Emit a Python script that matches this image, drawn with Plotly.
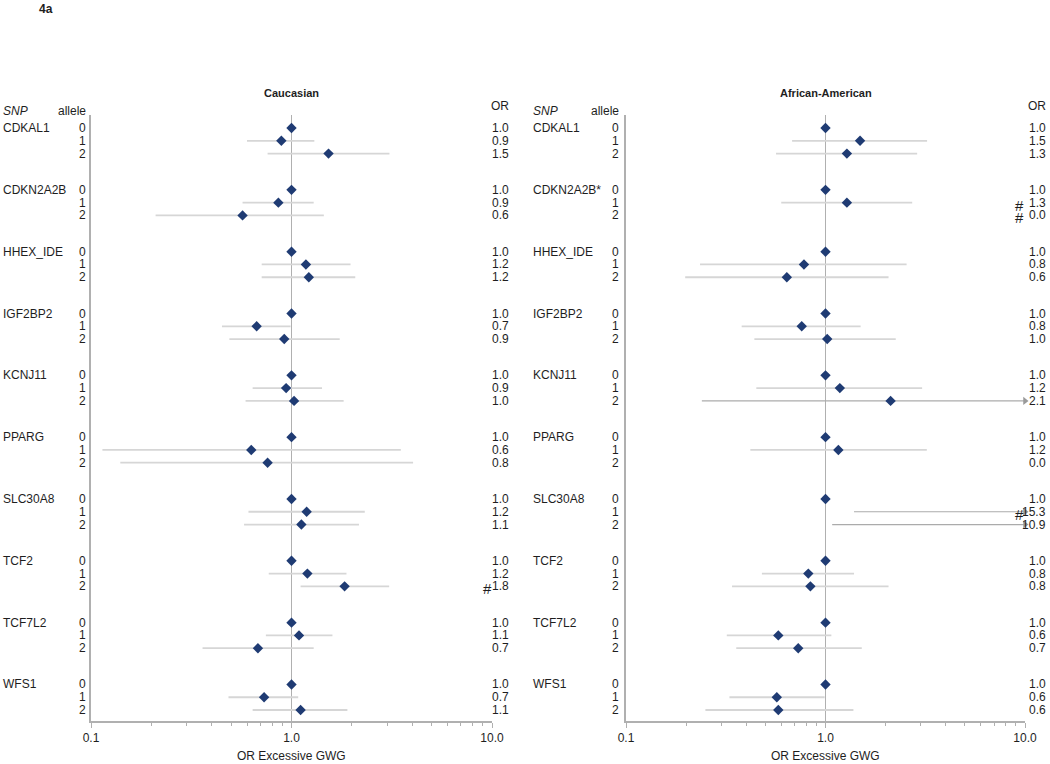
import plotly.graph_objects as go

SNPS = ["CDKAL1", "CDKN2A2B", "HHEX_IDE", "IGF2BP2", "KCNJ11",
        "PPARG", "SLC30A8", "TCF2", "TCF7L2", "WFS1"]
SNPS_AA = ["CDKAL1", "CDKN2A2B*", "HHEX_IDE", "IGF2BP2", "KCNJ11",
           "PPARG", "SLC30A8", "TCF2", "TCF7L2", "WFS1"]
ALLELES = ["0", "1", "2"]

# Caucasian: odds ratio and 95% CI per SNP (allele 0, 1, 2)
CAU_OR = [1.0, 0.89, 1.53,
          1.0, 0.86, 0.57,
          1.0, 1.18, 1.22,
          1.0, 0.67, 0.92,
          1.0, 0.94, 1.03,
          1.0, 0.63, 0.76,
          1.0, 1.19, 1.12,
          1.0, 1.20, 1.84,
          1.0, 1.09, 0.68,
          1.0, 0.73, 1.11]
CAU_LO = [None, 0.60, 0.76,
          None, 0.57, 0.21,
          None, 0.71, 0.71,
          None, 0.45, 0.49,
          None, 0.64, 0.59,
          None, 0.114, 0.14,
          None, 0.61, 0.58,
          None, 0.77, 1.11,
          None, 0.745, 0.36,
          None, 0.485, 0.64]
CAU_HI = [None, 1.30, 3.08,
          None, 1.29, 1.45,
          None, 1.97, 2.08,
          None, 0.99, 1.74,
          None, 1.42, 1.82,
          None, 3.51, 4.04,
          None, 2.32, 2.17,
          None, 1.88, 3.07,
          None, 1.60, 1.29,
          None, 1.08, 1.90]
CAU_HASH = [("TCF2", 2)]

# African-American
AA_OR = [1.0, 1.49, 1.28,
         1.0, 1.28, 0.0,
         1.0, 0.78, 0.64,
         1.0, 0.76, 1.02,
         1.0, 1.18, 2.12,
         1.0, 1.16, 0.0,
         1.0, 15.3, 10.9,
         1.0, 0.82, 0.84,
         1.0, 0.58, 0.73,
         1.0, 0.57, 0.58]
AA_LO = [None, 0.68, 0.565,
         None, 0.60, None,
         None, 0.235, 0.198,
         None, 0.38, 0.44,
         None, 0.45, 0.24,
         None, 0.42, None,
         None, 1.39, 1.08,
         None, 0.48, 0.34,
         None, 0.32, 0.357,
         None, 0.33, 0.25]
AA_HI = [None, 3.23, 2.88,
         None, 2.72, None,
         None, 2.55, 2.07,
         None, 1.50, 2.25,
         None, 3.05, 18.0,
         None, 3.22, None,
         None, 170.0, 110.0,
         None, 1.39, 2.07,
         None, 1.07, 1.52,
         None, 0.99, 1.38]
AA_HASH = [("CDKN2A2B", 1), ("CDKN2A2B", 2), ("SLC30A8", 1)]

AXIS_MIN, AXIS_MAX = 0.1, 10.0
GROUP_STEP = 4.84
W, H = 1050, 764
TOP, BOTTOM = 115, 721

FONT = "Liberation Sans, Arial, sans-serif"
TEXT = "#1e1e1e"
NAVY = "#1f3b73"
CI_GREY = "#d6d6d6"
ARROW_GREY = "#ababab"
AXIS_GREY = "#b0b0b0"

ypos = [g * GROUP_STEP + a for g in range(len(SNPS)) for a in range(len(ALLELES))]


def px(x):
    return x / W


def py(y):
    return (BOTTOM - y) / (BOTTOM - TOP)


fig = go.Figure()
annotations = []
shapes = []


def label(text, x, y, yref="paper", xanchor="center", **kw):
    annotations.append(dict(text=text, x=px(x), xref="paper", xanchor=xanchor,
                            y=y, yref=yref, yanchor="middle", showarrow=False, **kw))


panels = [
    dict(name="Caucasian", snps=SNPS, orv=CAU_OR, lo=CAU_LO, hi=CAU_HI, hashes=CAU_HASH,
         xa="x", ya="y", left=91, right=492, snp_x=1, allele_x=88, or_x=511, hash_x=487),
    dict(name="African-American", snps=SNPS_AA, orv=AA_OR, lo=AA_LO, hi=AA_HI, hashes=AA_HASH,
         xa="x2", ya="y2", left=626, right=1025, snp_x=531, allele_x=621, or_x=1048, hash_x=1019),
]

for p in panels:
    cx, cy, ax, ax_y, arrow_y = [], [], [], [], []
    for i, y in enumerate(ypos):
        lo, hi = p["lo"][i], p["hi"][i]
        if lo is None:
            continue
        if hi > AXIS_MAX:
            ax += [lo, AXIS_MAX, None]
            ax_y += [y, y, None]
            arrow_y.append(y)
        else:
            cx += [lo, hi, None]
            cy += [y, y, None]
    fig.add_trace(go.Scatter(x=cx, y=cy, mode="lines", xaxis=p["xa"], yaxis=p["ya"],
                             line=dict(color=CI_GREY, width=1.8), hoverinfo="skip",
                             showlegend=False))
    if ax:
        fig.add_trace(go.Scatter(x=ax, y=ax_y, mode="lines", xaxis=p["xa"], yaxis=p["ya"],
                                 line=dict(color=ARROW_GREY, width=1.2), hoverinfo="skip",
                                 showlegend=False))
        fig.add_trace(go.Scatter(x=[AXIS_MAX] * len(arrow_y), y=arrow_y, mode="markers",
                                 xaxis=p["xa"], yaxis=p["ya"], cliponaxis=False,
                                 marker=dict(symbol="triangle-right", size=7, color="#9a9a9a"),
                                 hoverinfo="skip", showlegend=False))
    pts = [(v, y) for v, y in zip(p["orv"], ypos) if v > 0]
    fig.add_trace(go.Scatter(x=[v for v, _ in pts], y=[y for _, y in pts], mode="markers",
                             xaxis=p["xa"], yaxis=p["ya"],
                             marker=dict(symbol="diamond", size=8, color=NAVY),
                             showlegend=False))

    shapes.append(dict(type="line", xref=p["xa"], x0=1, x1=1,
                       yref=p["ya"] + " domain", y0=0, y1=1,
                       line=dict(color=AXIS_GREY, width=1), layer="below"))

    for g, snp in enumerate(p["snps"]):
        label(snp, p["snp_x"], ypos[g * 3], yref=p["ya"], xanchor="left")
    for i, y in enumerate(ypos):
        label(ALLELES[i % 3], p["allele_x"], y, yref=p["ya"], xanchor="right")
        label(f"{p['orv'][i]:.1f}", p["or_x"], y, yref=p["ya"], xanchor="right")
    for snp, allele in p["hashes"]:
        y = ypos[SNPS.index(snp) * 3 + allele] + 0.2
        label("#", p["hash_x"], y, yref=p["ya"], font=dict(size=15))

    mid = (p["left"] + p["right"]) / 2
    label(f"<b>{p['name']}</b>", mid, py(93), font=dict(size=11))
    label("OR Excessive GWG", mid, py(756))
    label("<i>SNP</i>", p["snp_x"], py(111), xanchor="left")
    label("allele", p["allele_x"], py(111), xanchor="right")
    label("OR", p["or_x"], py(106), xanchor="right")

label("<b>4a</b>", 46, py(9), font=dict(size=12))

minor_vals = [m * 0.1 for m in range(2, 10)] + [float(m) for m in range(2, 10)]
xbase = dict(type="log", range=[-1, 1], showline=True, linecolor=AXIS_GREY, linewidth=1.5,
             showgrid=False, zeroline=False, ticks="outside", ticklen=5, tickcolor=AXIS_GREY,
             tickvals=[0.1, 1, 10], ticktext=["0.1", "1.0", "10.0"],
             minor=dict(tickvals=minor_vals, ticks="outside", ticklen=3, tickcolor=AXIS_GREY,
                        showgrid=False),
             tickfont=dict(size=12, color=TEXT, family=FONT), fixedrange=True,
             automargin=False)
ybase = dict(range=[ypos[-1] + 0.86, -1.02], showline=True, linecolor=AXIS_GREY, linewidth=1.5,
             showgrid=False, zeroline=False, showticklabels=False, ticks="", fixedrange=True,
             automargin=False)

fig.update_layout(
    width=W, height=H, autosize=False,
    margin=dict(l=0, r=0, t=TOP, b=H - BOTTOM, autoexpand=False),
    paper_bgcolor="white", plot_bgcolor="white",
    font=dict(family=FONT, size=12, color=TEXT),
    xaxis=dict(xbase, domain=[px(91), px(492)], anchor="y"),
    xaxis2=dict(xbase, domain=[px(626), px(1025)], anchor="y2"),
    yaxis=dict(ybase, anchor="x"),
    yaxis2=dict(ybase, anchor="x2"),
    annotations=annotations,
    shapes=shapes,
    showlegend=False,
)

# the page body has a default margin; drop it so the figure fills the window
fig.write_html("out.html", config={"displayModeBar": False},
               post_script="document.body.style.margin='0px';"
                           "document.body.style.overflow='hidden';")
